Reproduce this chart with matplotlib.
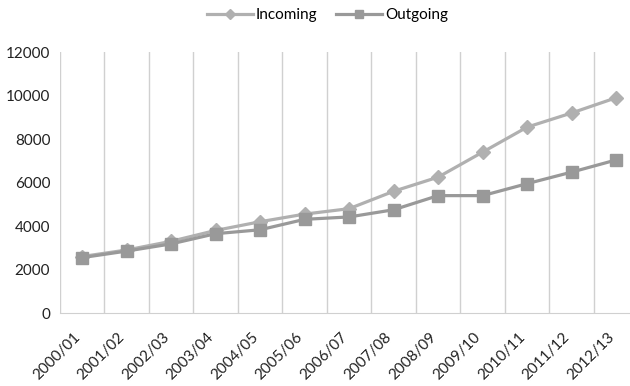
import numpy as np
import matplotlib
matplotlib.use("Agg")
import matplotlib.pyplot as plt
import matplotlib.transforms as mtransforms

plt.rcParams['font.family'] = ['Lato', 'DejaVu Sans']

# Yearly counts
years = ["2000/01", "2001/02", "2002/03", "2003/04", "2004/05", "2005/06", "2006/07",
         "2007/08", "2008/09", "2009/10", "2010/11", "2011/12", "2012/13"]
incoming = [2600, 2900, 3300, 3800, 4200, 4550, 4800, 5600, 6250, 7400, 8550, 9200, 9900]
outgoing = [2550, 2850, 3180, 3650, 3830, 4310, 4420, 4750, 5400, 5400, 5950, 6480, 7040]

x = np.arange(len(years))

fig = plt.figure(figsize=(6.3, 3.86), dpi=100)
ax = fig.add_axes([0.0952, 0.189, 0.918, 0.676])

ax.plot(x, incoming, color="#b0b0b0", lw=2.3, marker="D", ms=7, label="Incoming", zorder=3)
ax.plot(x, outgoing, color="#999999", lw=2.3, marker="s", ms=8.5, label="Outgoing", zorder=3)

ax.set_xlim(-0.5, len(years) - 0.5)
ax.set_ylim(0, 12000)
ax.set_yticks(np.arange(0, 12001, 2000))
ax.set_xticks(x)
ax.set_xticklabels(years, rotation=45, ha="right", rotation_mode="anchor")
ax.set_xticks(np.arange(-0.5, len(years), 1), minor=True)
ax.grid(True, which="minor", axis="x", color="#d0d0d0", lw=1)
ax.tick_params(which="both", length=0)
ax.tick_params(axis="y", labelsize=11, pad=7, colors="#222222")
ax.tick_params(axis="x", labelsize=11, pad=12, colors="#222222")

# nudge rotated labels left so they end just before each category centre
shift = mtransforms.ScaledTranslation(-9 / 100, 0, fig.dpi_scale_trans)
for lbl in ax.get_xticklabels():
    lbl.set_transform(lbl.get_transform() + shift)

for side in ["top", "right", "left"]:
    ax.spines[side].set_visible(False)
ax.spines["bottom"].set_color("#d0d0d0")

fig.legend(*ax.get_legend_handles_labels(), loc="center", bbox_to_anchor=(0.52, 1 - 15 / 386),
           ncol=2, frameon=False, fontsize=11, handlelength=3, markerscale=0.7,
           columnspacing=1.2, handletextpad=0.2)

fig.savefig("out.png", dpi=100)
